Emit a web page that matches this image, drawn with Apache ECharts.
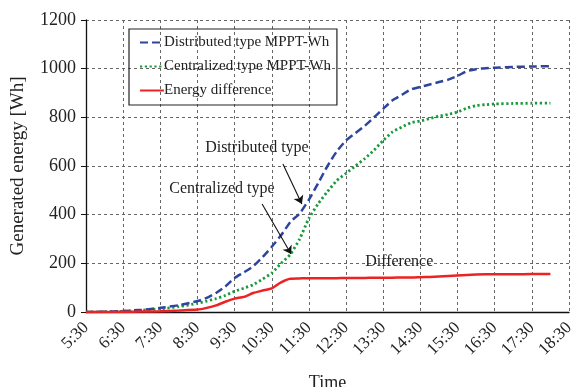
<!DOCTYPE html>
<html>
<head>
<meta charset="utf-8">
<script src="https://cdn.jsdelivr.net/npm/echarts@6/dist/echarts.min.js"></script>
<style>
  html, body { margin: 0; padding: 0; background: #fff; }
  #chart { width: 576px; height: 387px; }
</style>
</head>
<body>
<div id="chart"></div>
<script>
// Sample times (clock time)
const times = ['5:30','6:00','6:30','7:00','7:30','8:00','8:30','8:45','9:00','9:15','9:30','9:45',
  '10:00','10:15','10:30','10:45','11:00','11:15','11:30','11:45','12:00','12:15','12:30','12:45',
  '13:00','13:15','13:30','13:45','14:00','14:15','14:30','14:45','15:00','15:15','15:30','15:45',
  '16:00','16:15','16:30','17:00','17:30','18:00'];

// Cumulative generated energy [Wh]
const distributed = [0,1,4,9,17,28,45,58,78,105,140,163,
  188,225,268,315,370,405,462,530,600,660,705,735,
  765,800,835,870,892,915,925,935,945,955,970,990,
  998,1002,1004,1007,1009,1010];
const centralized = [0,1,3,7,13,22,36,45,55,68,85,98,
  112,135,160,200,237,300,385,445,495,540,570,600,
  630,665,705,740,760,778,785,795,805,812,822,838,
  848,852,855,857,858,858];
const difference = [0,0,1,2,3,6,10,17,27,42,55,62,
  78,88,97,122,137,138,139,139,139,139,140,140,
  140,141,141,141,142,142,143,144,146,148,150,152,
  154,155,155,155,156,156];

// Axis tick labels
const xTickLabels = ['5:30','6:30','7:30','8:30','9:30','10:30','11:30','12:30','13:30','14:30','15:30','16:30','17:30','18:30'];

// Convert "H:MM" to hours elapsed since 5:30
function toHours(t) {
  const [h, m] = t.split(':').map(Number);
  return h + m / 60 - 5.5;
}
const pairs = (vals) => times.map((t, i) => [toHours(t), vals[i]]);

const serif = 'Liberation Serif';
const textColor = '#222';

const annotationLabel = {
  show: true, position: 'inside', fontFamily: serif, fontSize: 16, color: textColor,
  formatter: (p) => p.name
};
const arrowLine = {
  silent: true,
  symbol: ['none', 'arrow'], symbolSize: 8,
  label: { show: false },
  lineStyle: { color: '#111', width: 1.1, type: 'solid' }
};

const chart = echarts.init(document.getElementById('chart'));
chart.setOption({
  animation: false,
  backgroundColor: '#fff',
  textStyle: { fontFamily: serif, color: textColor },
  grid: { left: 86, right: 7, top: 20, bottom: 75, containLabel: false, outerBoundsMode: 'none' },
  legend: {
    orient: 'vertical',
    left: 129, top: 29,
    padding: [6, 6, 7, 10],
    itemGap: 9,
    itemWidth: 24,
    itemHeight: 14,
    borderColor: '#222',
    borderWidth: 1.2,
    itemStyle: { opacity: 0 },
    textStyle: { fontFamily: serif, fontSize: 15, color: textColor, padding: [0, 0, 0, -5] },
    data: ['Distributed type MPPT-Wh', 'Centralized type MPPT-Wh', 'Energy difference']
  },
  xAxis: {
    type: 'value',
    min: 0, max: 13, interval: 1,
    name: 'Time',
    nameLocation: 'middle',
    nameGap: 62,
    nameTextStyle: { fontFamily: serif, fontSize: 18, color: textColor },
    axisLine: { show: true, onZero: false, lineStyle: { color: '#111', width: 1.3 } },
    axisTick: { show: false },
    axisLabel: {
      rotate: 45, fontFamily: serif, fontSize: 17, color: textColor, margin: 13,
      formatter: (v) => xTickLabels[Math.round(v)] || ''
    },
    splitLine: { show: true, lineStyle: { color: '#666', type: [3, 3], width: 1 } }
  },
  yAxis: {
    type: 'value',
    min: 0, max: 1200, interval: 200,
    name: 'Generated energy [Wh]',
    nameLocation: 'middle',
    nameGap: 58,
    nameTextStyle: { fontFamily: serif, fontSize: 19, color: textColor },
    axisLine: { show: true, lineStyle: { color: '#111', width: 1.3 } },
    axisTick: { show: true, length: 5, lineStyle: { color: '#111' } },
    axisLabel: { fontFamily: serif, fontSize: 18, color: textColor, margin: 10,
                 formatter: (v) => String(v) },
    splitLine: { show: true, lineStyle: { color: '#666', type: [3, 3], width: 1 } }
  },
  series: [
    {
      name: 'Distributed type MPPT-Wh',
      type: 'line',
      data: pairs(distributed),
      symbol: 'none',
      smooth: 0.2,
      z: 4,
      itemStyle: { color: '#2d45a0' },
      lineStyle: { color: '#2d45a0', width: 2.5, type: [8, 4] },
      markPoint: {
        symbol: 'circle', symbolSize: 0,
        label: annotationLabel,
        data: [{ name: 'Distributed type', coord: [4.60, 674] }]
      },
      markLine: Object.assign({}, arrowLine, {
        data: [[{ coord: [5.30, 608] }, { coord: [5.81, 444] }]]
      })
    },
    {
      name: 'Centralized type MPPT-Wh',
      type: 'line',
      data: pairs(centralized),
      symbol: 'none',
      smooth: 0.2,
      z: 3,
      itemStyle: { color: '#169a3a' },
      lineStyle: { color: '#169a3a', width: 2.8, type: [2.2, 2.6] },
      markPoint: {
        symbol: 'circle', symbolSize: 0,
        label: annotationLabel,
        data: [{ name: 'Centralized type', coord: [3.66, 506] }]
      },
      markLine: Object.assign({}, arrowLine, {
        data: [[{ coord: [4.74, 444] }, { coord: [5.52, 238] }]]
      })
    },
    {
      name: 'Energy difference',
      type: 'line',
      data: pairs(difference),
      symbol: 'none',
      smooth: 0.2,
      z: 5,
      itemStyle: { color: '#ee2222' },
      lineStyle: { color: '#ee2222', width: 2.5 },
      markPoint: {
        symbol: 'circle', symbolSize: 0,
        label: annotationLabel,
        data: [{ name: 'Difference', coord: [8.43, 206] }]
      }
    }
  ]
});
</script>
</body>
</html>
